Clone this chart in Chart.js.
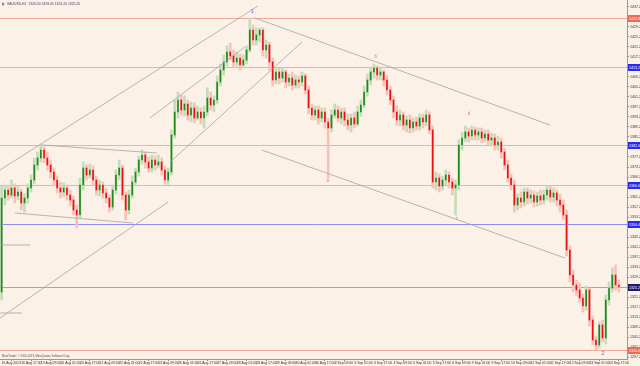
<!DOCTYPE html>
<html><head><meta charset="utf-8">
<script src="https://cdn.jsdelivr.net/npm/chart.js@4.4.0/dist/chart.umd.min.js"></script>
<style>html,body{margin:0;padding:0;background:#fbf1e6;}canvas{display:block;}</style>
</head><body>
<canvas id="c" width="640" height="366"></canvas>
<script>
// ---- data (XAUUSD, resampled candles) ----
const opens=[1323.2,1360.8,1364.0,1362.0,1364.8,1361.6,1363.2,1358.8,1360.8,1364.8,
1368.0,1374.0,1376.8,1380.0,1376.8,1374.0,1371.2,1368.0,1364.8,1363.2,
1364.8,1362.0,1360.0,1356.0,1354.0,1366.0,1372.8,1370.0,1372.0,1368.0,
1364.0,1366.0,1362.8,1360.8,1357.2,1364.0,1370.0,1372.8,1362.0,1356.0,
1362.0,1367.2,1371.2,1376.0,1378.0,1375.2,1372.8,1376.0,1374.0,1375.2,
1372.0,1368.0,1371.2,1386.0,1395.2,1400.0,1396.0,1398.4,1394.0,1396.8,
1392.8,1395.2,1392.8,1395.2,1400.8,1398.0,1400.0,1407.2,1412.0,1415.2,
1419.2,1417.6,1415.2,1416.8,1414.0,1416.0,1420.0,1428.0,1424.0,1426.0,
1428.0,1420.0,1422.0,1415.2,1408.0,1411.2,1408.8,1411.2,1407.2,1408.8,
1406.0,1408.0,1407.2,1409.6,1404.0,1396.8,1394.0,1396.0,1392.8,1395.2,
1391.2,1388.8,1394.0,1396.0,1392.8,1395.2,1392.0,1390.0,1392.8,1390.4,
1395.2,1398.0,1403.2,1408.0,1411.2,1412.8,1410.0,1411.2,1408.0,1404.0,
1400.0,1395.2,1392.0,1394.0,1390.0,1392.0,1388.8,1391.2,1389.6,1392.8,
1391.2,1394.0,1388.0,1367.2,1368.8,1365.6,1368.0,1370.0,1367.2,1364.8,
1366.0,1382.0,1384.8,1387.2,1385.6,1388.0,1386.0,1387.2,1384.8,1386.4,
1384.0,1384.8,1382.0,1383.2,1379.2,1374.0,1368.8,1366.0,1358.0,1360.8,
1359.2,1363.2,1360.8,1362.0,1359.2,1361.6,1360.0,1362.0,1364.0,1361.2,
1362.8,1360.0,1358.0,1354.0,1340.0,1330.0,1326.0,1324.0,1320.8,1317.6,
1324.0,1312.0,1304.0,1302.0,1310.0,1304.8,1320.0,1324.8,1330.0,1326.0];
const highs=[1365.6,1366.0,1365.6,1368.0,1366.4,1365.6,1364.4,1362.4,1366.4,1370.0,
1376.8,1379.2,1382.4,1381.2,1379.2,1376.0,1372.8,1369.6,1367.2,1366.8,
1366.0,1364.0,1361.6,1358.0,1368.8,1375.2,1374.0,1374.4,1373.6,1369.6,
1368.0,1367.2,1364.8,1362.0,1366.0,1372.0,1376.0,1374.0,1363.2,1364.0,
1369.6,1372.8,1377.6,1380.0,1379.2,1377.2,1378.0,1377.6,1378.0,1376.8,
1373.6,1372.8,1388.0,1400.0,1403.2,1402.0,1401.6,1400.0,1399.2,1398.8,
1397.6,1396.8,1397.6,1404.8,1403.2,1401.6,1409.6,1414.4,1418.0,1421.6,
1422.8,1420.0,1419.2,1418.4,1418.0,1421.6,1432.8,1430.0,1428.8,1428.8,
1428.8,1424.0,1423.2,1416.8,1412.8,1412.8,1412.8,1412.0,1410.4,1411.2,
1410.0,1409.6,1411.2,1410.4,1405.6,1398.4,1397.6,1397.6,1396.8,1396.8,
1392.8,1396.0,1398.4,1397.6,1396.8,1396.8,1394.4,1394.4,1395.2,1397.6,
1400.0,1405.6,1410.4,1412.8,1414.4,1413.6,1412.8,1412.0,1409.6,1405.6,
1401.6,1397.6,1396.0,1395.2,1393.6,1394.0,1392.8,1393.2,1394.4,1394.4,
1396.0,1395.2,1389.6,1371.2,1370.4,1369.6,1372.0,1371.2,1368.8,1368.0,
1384.0,1387.2,1389.6,1388.8,1389.6,1389.2,1388.8,1388.8,1388.0,1388.0,
1386.8,1386.4,1385.6,1384.8,1380.8,1376.0,1370.4,1368.0,1362.4,1363.2,
1364.8,1364.8,1364.0,1363.6,1363.2,1364.0,1364.0,1365.6,1365.6,1364.8,
1364.0,1362.4,1360.0,1356.0,1341.6,1332.0,1328.0,1326.8,1322.4,1325.6,
1324.8,1313.6,1305.6,1311.2,1312.0,1322.0,1327.2,1332.8,1334.0,1328.0];
const lows=[1320.0,1358.0,1360.0,1360.8,1358.8,1360.0,1356.0,1355.2,1358.8,1363.2,
1366.4,1372.0,1375.2,1374.8,1372.0,1368.8,1365.6,1362.8,1360.8,1361.2,
1360.0,1357.6,1354.0,1348.8,1352.8,1364.0,1368.0,1368.8,1366.0,1362.0,
1361.6,1360.8,1358.8,1355.2,1356.0,1362.4,1368.0,1360.0,1352.0,1354.4,
1360.8,1365.6,1369.6,1374.4,1372.8,1371.2,1371.2,1372.0,1372.8,1370.0,
1366.4,1365.6,1370.0,1384.8,1392.8,1394.0,1393.6,1392.0,1391.2,1390.8,
1392.0,1390.4,1388.8,1393.6,1396.0,1395.2,1398.4,1405.6,1410.0,1413.6,
1416.0,1412.8,1413.6,1412.0,1412.8,1414.4,1419.2,1422.0,1422.0,1423.2,
1417.6,1416.8,1412.0,1405.6,1406.4,1406.4,1407.2,1404.8,1405.6,1404.0,
1404.8,1404.8,1405.6,1402.4,1394.4,1392.0,1392.0,1390.4,1391.2,1388.8,
1368.8,1387.2,1392.8,1391.2,1390.4,1389.6,1388.0,1387.2,1388.8,1389.6,
1393.6,1396.8,1401.6,1406.0,1408.8,1408.0,1408.0,1405.6,1402.0,1398.0,
1392.8,1390.0,1389.6,1388.0,1387.2,1386.8,1387.2,1388.0,1388.0,1388.8,
1389.6,1386.4,1364.8,1364.0,1363.2,1364.0,1366.0,1364.8,1362.0,1354.0,
1364.0,1380.0,1383.2,1383.2,1384.0,1384.0,1384.0,1382.8,1383.2,1382.0,
1381.6,1380.0,1380.0,1376.8,1372.0,1367.2,1364.0,1355.2,1356.0,1356.8,
1357.6,1358.4,1358.8,1357.2,1357.6,1358.0,1358.4,1360.0,1359.2,1359.2,
1357.6,1355.2,1352.0,1337.6,1327.2,1323.2,1321.6,1319.2,1315.2,1316.0,
1309.6,1302.0,1300.0,1300.8,1303.2,1302.4,1318.0,1323.2,1324.0,1323.2];
const closes=[1360.8,1364.0,1362.0,1364.8,1361.6,1363.2,1358.8,1360.8,1364.8,1368.0,
1374.0,1376.8,1380.0,1376.8,1374.0,1371.2,1368.0,1364.8,1363.2,1364.8,
1362.0,1360.0,1356.0,1354.0,1366.0,1372.8,1370.0,1372.0,1368.0,1364.0,
1366.0,1362.8,1360.8,1357.2,1364.0,1370.0,1372.8,1362.0,1356.0,1362.0,
1367.2,1371.2,1376.0,1378.0,1375.2,1372.8,1376.0,1374.0,1375.2,1372.0,
1368.0,1371.2,1386.0,1395.2,1400.0,1396.0,1398.4,1394.0,1396.8,1392.8,
1395.2,1392.8,1395.2,1400.8,1398.0,1400.0,1407.2,1412.0,1415.2,1419.2,
1417.6,1415.2,1416.8,1414.0,1416.0,1420.0,1428.0,1424.0,1426.0,1428.0,
1420.0,1422.0,1415.2,1408.0,1411.2,1408.8,1411.2,1407.2,1408.8,1406.0,
1408.0,1407.2,1409.6,1404.0,1396.8,1394.0,1396.0,1392.8,1395.2,1391.2,
1388.8,1394.0,1396.0,1392.8,1395.2,1392.0,1390.0,1392.8,1390.4,1395.2,
1398.0,1403.2,1408.0,1411.2,1412.8,1410.0,1411.2,1408.0,1404.0,1400.0,
1395.2,1392.0,1394.0,1390.0,1392.0,1388.8,1391.2,1389.6,1392.8,1391.2,
1394.0,1388.0,1367.2,1368.8,1365.6,1368.0,1370.0,1367.2,1364.8,1366.0,
1382.0,1384.8,1387.2,1385.6,1388.0,1386.0,1387.2,1384.8,1386.4,1384.0,
1384.8,1382.0,1383.2,1379.2,1374.0,1368.8,1366.0,1358.0,1360.8,1359.2,
1363.2,1360.8,1362.0,1359.2,1361.6,1360.0,1362.0,1364.0,1361.2,1362.8,
1360.0,1358.0,1354.0,1340.0,1330.0,1326.0,1324.0,1320.8,1317.6,1324.0,
1312.0,1304.0,1302.0,1310.0,1304.8,1320.0,1324.8,1330.0,1326.0,1325.2];

const xTickIndex=[0,6,12,18,24,30,36,42,48,54,60,66,72,78,84,90,96,102,108,114,120,126,132,138,144,150,156,162,168,174,180,186];
const xTickLabels=['16 Aug 2013','16 Aug 17:00','19 Aug 09:00','20 Aug 01:00','20 Aug 17:00','21 Aug 09:00','22 Aug 01:00','22 Aug 17:00','23 Aug 09:00','26 Aug 01:00','26 Aug 17:00','27 Aug 09:00','28 Aug 01:00','28 Aug 17:00','29 Aug 09:00','30 Aug 01:00','30 Aug 17:00','2 Sep 09:00','3 Sep 01:00','3 Sep 17:00','4 Sep 09:00','5 Sep 01:00','5 Sep 17:00','6 Sep 09:00','9 Sep 01:00','9 Sep 17:00','10 Sep 09:00','11 Sep 01:00','11 Sep 17:00','12 Sep 09:00','13 Sep 01:00','13 Sep 17:00'];
const yTickValues=[1437.2,1433.2,1429.2,1425.2,1421.2,1417.2,1413.2,1409.2,1405.2,1401.2,1397.2,1393.2,1389.2,1385.2,1381.2,1377.2,1373.2,1369.2,1365.2,1361.2,1357.2,1353.2,1349.2,1345.2,1341.2,1337.2,1333.2,1329.2,1325.2,1321.2,1317.2,1313.2,1309.2,1305.2,1301.2,1297.2];

// horizontal price levels and their kinds
const hLevels=[1432.8,1413.2,1382.0,1366.0,1350.4,1325.2,1300.0];
const hKinds=['red','lblue','lav','lav','blue','cur','red'];

// trend lines: [startIndex, startPrice, endIndex, endPrice]
const trendLines=[
 [-0.5,1372.0,78.5,1437.6],
 [45.4,1392.8,74.5,1421.2],
 [51.6,1375.2,92.0,1423.2],
 [-0.5,1312.8,51.0,1359.2],
 [12.4,1382.0,47.6,1378.8],
 [4.1,1354.8,40.2,1350.8],
 [77.6,1432.8,167.9,1390.0],
 [79.7,1380.0,172.5,1336.8],
 [-0.5,1342.0,8.7,1342.0],
 [-0.5,1314.8,6.2,1314.8]
];
// wave labels
const waveText=['1','2','a','b','c','d'];
const waveX=[76.7,184.1,99.9,114.6,139.4,143.1];
const waveY=[1435.6,1298.8,1367.6,1417.2,1352.4,1394.4];

const headerText='XAUUSD,H1  1326.00 1328.00 1323.20 1325.20';
const copyText='MetaTrader, \u00a9 2001-2013, MetaQuotes Software Corp.';

// ---- styles ----
const BG='#fbf1e6';
const upBody='#1e8a1e', dnBody='#ee1010', upPale='#c4dcba', dnPale='#f6c2ba';
const hLine={red:'#f2a898',lblue:'#babaee',lav:'#c0bce6',blue:'#8e8ef6',cur:'#a6a6a6'};
const hBox={red:'#f06a52',lblue:'#2a2af2',lav:'#2a2af2',blue:'#2a2af2',cur:'#1c1c70'};
const FONT='Liberation Sans';

const idx=closes.map((_,i)=>i);
const isUp=idx.map(i=>closes[i]>=opens[i]);

const decor={
 id:'decor',
 beforeDraw(chart){const c=chart.ctx;c.save();c.fillStyle=BG;c.fillRect(0,0,chart.width,chart.height);c.restore();},
 beforeDatasetsDraw(chart){
  const c=chart.ctx,a=chart.chartArea,ys=chart.scales.y;
  c.save();
  hLevels.forEach((v,k)=>{const py=Math.round(ys.getPixelForValue(v))+0.5;
   c.strokeStyle=hLine[hKinds[k]];c.lineWidth=1;c.beginPath();c.moveTo(a.left,py);c.lineTo(a.right,py);c.stroke();});
  c.restore();
 },
 afterDraw(chart){
  const c=chart.ctx,a=chart.chartArea,ys=chart.scales.y,xs=chart.scales.x;
  c.save();
  hLevels.forEach((v,k)=>{const py=Math.round(ys.getPixelForValue(v));
   c.fillStyle=hBox[hKinds[k]];c.fillRect(a.right+1,py-3,13,7);
   c.fillStyle='#ffffff';c.font='3.6px "'+FONT+'"';c.textBaseline='middle';c.textAlign='left';
   c.fillText(v.toFixed(2),a.right+2,py+0.5);});
  waveText.forEach((t,k)=>{const px=xs.getPixelForValue(waveX[k]),py=ys.getPixelForValue(waveY[k]);
   const big=(t==='1'||t==='2');
   c.fillStyle=big?'#6a6ae8':'#e0806a';c.font=(big?'6px':'4.5px')+' "'+FONT+'"';
   c.textAlign='center';c.textBaseline='middle';c.fillText(t,px,py);});
  c.fillStyle='#8888aa';c.beginPath();c.moveTo(2,2);c.lineTo(5,4);c.lineTo(2,6);c.closePath();c.fill();
  c.fillStyle='#404070';c.font='3.4px "'+FONT+'"';c.textAlign='left';c.textBaseline='middle';
  c.fillText(headerText,7,4.5);
  c.fillStyle='#505060';c.font='2.8px "'+FONT+'"';c.fillText(copyText,2,356);
  c.restore();
 }
};

const datasets=[
 {type:'bar',data:idx.map(i=>({x:i,y:[lows[i],highs[i]]})),backgroundColor:isUp.map(u=>u?upPale:dnPale),
  barThickness:2.0,grouped:false,borderWidth:0,order:3},
 {type:'bar',data:idx.map(i=>({x:i,y:[opens[i],closes[i]]})),backgroundColor:isUp.map(u=>u?upBody:dnBody),
  barThickness:1.0,grouped:false,borderWidth:0,minBarLength:1,order:2}
];
trendLines.forEach(t=>datasets.push({type:'line',data:[{x:t[0],y:t[1]},{x:t[2],y:t[3]}],
 borderColor:'#a4a4a4',borderWidth:0.8,pointRadius:0,fill:false,order:1}));

new Chart(document.getElementById('c'),{
 type:'bar',
 data:{datasets},
 plugins:[decor],
 options:{
  responsive:false,devicePixelRatio:1,animation:false,
  layout:{padding:0},
  plugins:{legend:{display:false},tooltip:{enabled:false}},
  scales:{
   x:{type:'linear',min:-0.5,max:191.5,position:'bottom',offset:false,
    afterBuildTicks:s=>{s.ticks=xTickIndex.map(v=>({value:v}));},
    afterFit:s=>{s.height=7;s.paddingLeft=0;s.paddingRight=0;},
    grid:{display:true,drawOnChartArea:false,tickLength:2,color:'#8a8a8a'},
    border:{display:true,color:'#9a9a9a'},
    ticks:{autoSkip:false,maxRotation:0,minRotation:0,align:'start',padding:0,color:'#333344',
     font:{family:FONT,size:3.4},callback:(v,i)=>xTickLabels[i]}},
   y:{type:'linear',position:'right',min:1296.4,max:1440,
    afterBuildTicks:s=>{s.ticks=yTickValues.map(v=>({value:v}));},
    afterFit:s=>{s.width=13;s.paddingTop=0;s.paddingBottom=0;},
    grid:{display:true,drawOnChartArea:false,tickLength:2,color:'#8a8a8a'},
    border:{display:true,color:'#9a9a9a'},
    ticks:{padding:1,color:'#333344',font:{family:FONT,size:3.6},callback:v=>v.toFixed(2)}}
  }
 }
});
</script>
</body></html>
